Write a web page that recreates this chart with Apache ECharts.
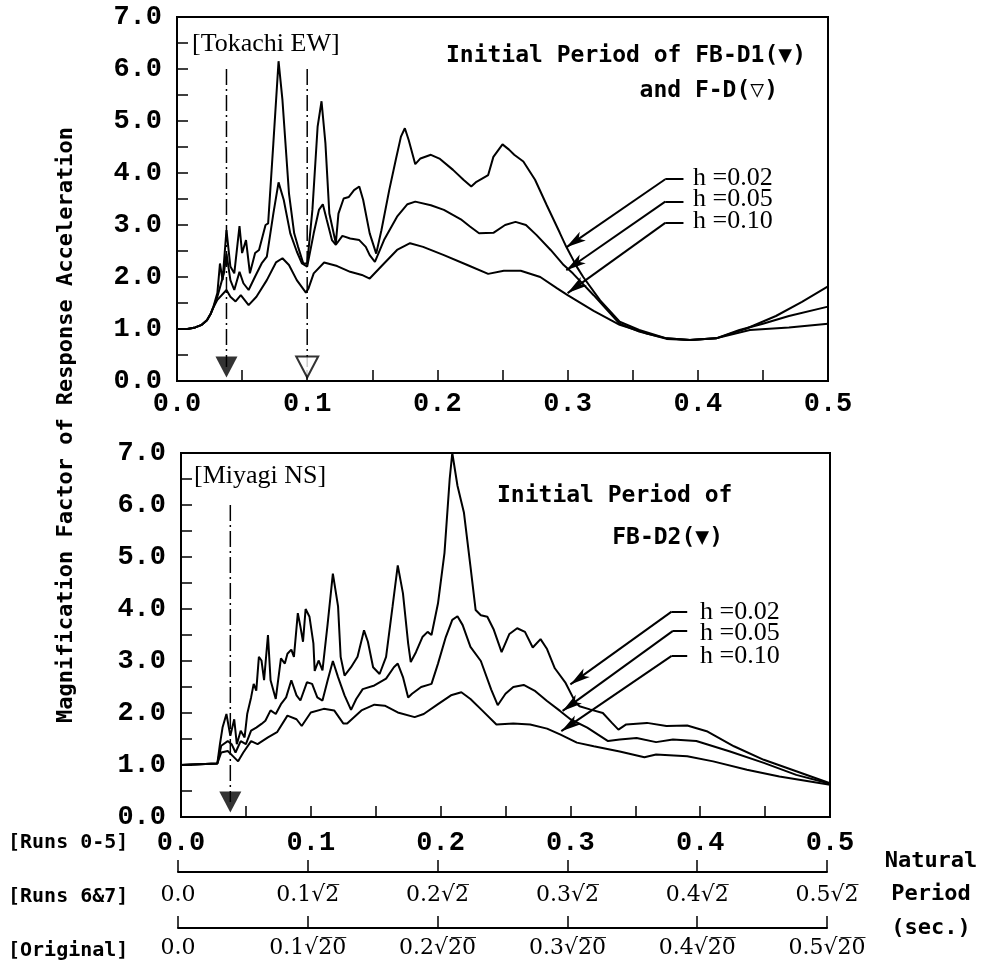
<!DOCTYPE html>
<html>
<head>
<meta charset="utf-8">
<script src="https://cdn.jsdelivr.net/npm/echarts@6/dist/echarts.min.js"></script>
<style>
  body { margin: 0; background: #fff; }
  #chart { width: 996px; height: 964px; }
</style>
</head>
<body>
<div id="chart"></div>
<script>
// [Tokachi EW] spectra, x = natural period (s), y = magnification factor
let tokachiH002 = [[0,1.0],[0.008,1.0],[0.014,1.03],[0.019,1.08],[0.023,1.17],[0.026,1.3],[0.028,1.43],[0.031,1.69],[0.033,2.26],[0.035,1.94],[0.038,2.9],[0.041,2.2],[0.044,2.07],[0.048,2.98],[0.050,2.46],[0.053,2.71],[0.056,2.07],[0.060,2.46],[0.063,2.52],[0.068,3.0],[0.070,3.03],[0.074,4.57],[0.078,6.15],[0.081,5.4],[0.086,3.61],[0.090,2.84],[0.093,2.58],[0.097,2.26],[0.100,2.26],[0.104,3.29],[0.108,4.89],[0.111,5.38],[0.114,4.57],[0.117,3.22],[0.122,2.65],[0.124,3.22],[0.128,3.51],[0.132,3.54],[0.136,3.67],[0.140,3.74],[0.143,3.48],[0.148,2.84],[0.153,2.45],[0.157,2.90],[0.163,3.67],[0.168,4.25],[0.172,4.70],[0.175,4.86],[0.178,4.63],[0.183,4.17],[0.187,4.28],[0.195,4.35],[0.202,4.27],[0.212,4.06],[0.220,3.87],[0.226,3.74],[0.230,3.83],[0.239,3.96],[0.243,4.31],[0.250,4.55],[0.255,4.45],[0.259,4.35],[0.266,4.22],[0.275,3.87],[0.284,3.38],[0.294,2.85],[0.299,2.58],[0.307,2.2],[0.312,2.0],[0.325,1.55],[0.340,1.14],[0.355,0.98],[0.376,0.82],[0.394,0.79],[0.414,0.82],[0.4375,1.01],[0.46,1.25],[0.48,1.52],[0.5,1.82]]
let tokachiH005 = [[0,1.0],[0.008,1.0],[0.014,1.03],[0.019,1.08],[0.023,1.17],[0.026,1.3],[0.028,1.42],[0.031,1.62],[0.036,2.07],[0.038,2.45],[0.041,1.94],[0.044,1.75],[0.048,2.10],[0.051,1.88],[0.055,1.75],[0.060,2.01],[0.065,2.26],[0.069,2.39],[0.074,3.22],[0.078,3.82],[0.082,3.48],[0.087,2.84],[0.092,2.49],[0.096,2.26],[0.100,2.20],[0.105,2.84],[0.109,3.29],[0.112,3.40],[0.115,3.10],[0.119,2.71],[0.122,2.62],[0.127,2.79],[0.133,2.74],[0.140,2.71],[0.145,2.58],[0.148,2.42],[0.152,2.29],[0.159,2.71],[0.169,3.16],[0.177,3.40],[0.183,3.45],[0.195,3.38],[0.205,3.29],[0.218,3.11],[0.225,2.97],[0.232,2.84],[0.243,2.85],[0.252,3.0],[0.260,3.06],[0.268,3.0],[0.276,2.81],[0.287,2.52],[0.297,2.23],[0.304,2.07],[0.32,1.65],[0.340,1.1],[0.355,0.95],[0.376,0.81],[0.394,0.79],[0.414,0.82],[0.432,0.98],[0.45,1.1],[0.47,1.25],[0.5,1.43]]
let tokachiH010 = [[0,1.0],[0.008,1.0],[0.014,1.03],[0.019,1.08],[0.023,1.17],[0.026,1.3],[0.028,1.42],[0.031,1.56],[0.038,1.75],[0.041,1.62],[0.045,1.53],[0.049,1.65],[0.055,1.46],[0.061,1.62],[0.069,1.94],[0.076,2.28],[0.081,2.36],[0.086,2.23],[0.092,1.94],[0.099,1.70],[0.101,1.78],[0.105,2.07],[0.113,2.28],[0.123,2.21],[0.133,2.10],[0.142,2.04],[0.148,1.97],[0.159,2.26],[0.169,2.52],[0.179,2.65],[0.189,2.58],[0.205,2.42],[0.223,2.23],[0.239,2.06],[0.251,2.12],[0.264,2.12],[0.279,2.0],[0.292,1.78],[0.300,1.65],[0.32,1.35],[0.340,1.08],[0.36,0.92],[0.376,0.82],[0.394,0.79],[0.414,0.82],[0.44,0.98],[0.47,1.03],[0.5,1.1]]

// [Miyagi NS] spectra
let miyagiH002 = [[0,1.0],[0.028,1.03],[0.030,1.40],[0.032,1.72],[0.035,1.98],[0.038,1.56],[0.041,1.88],[0.043,1.40],[0.046,1.66],[0.049,1.53],[0.051,1.98],[0.054,2.30],[0.056,2.56],[0.058,2.43],[0.060,3.08],[0.062,3.01],[0.064,2.63],[0.067,3.50],[0.069,2.63],[0.073,2.27],[0.077,3.05],[0.080,2.95],[0.082,3.14],[0.085,3.22],[0.087,3.08],[0.090,3.92],[0.092,3.66],[0.094,3.37],[0.096,4.0],[0.099,3.85],[0.102,3.34],[0.103,2.81],[0.106,3.01],[0.109,2.82],[0.113,3.72],[0.117,4.68],[0.121,4.05],[0.123,3.08],[0.126,2.72],[0.131,2.88],[0.136,3.08],[0.141,3.59],[0.144,3.37],[0.148,2.88],[0.153,2.75],[0.158,3.08],[0.163,4.05],[0.167,4.84],[0.171,4.30],[0.175,3.34],[0.177,2.98],[0.181,3.17],[0.186,3.46],[0.190,3.56],[0.193,3.50],[0.198,4.11],[0.203,5.08],[0.207,6.50],[0.209,7.0],[0.213,6.37],[0.218,5.85],[0.223,4.82],[0.227,3.98],[0.231,3.88],[0.236,3.85],[0.241,3.6],[0.247,3.17],[0.253,3.52],[0.259,3.63],[0.265,3.56],[0.271,3.26],[0.277,3.42],[0.282,3.23],[0.288,2.86],[0.296,2.59],[0.304,2.20],[0.307,2.13],[0.315,2.07],[0.325,2.0],[0.332,1.81],[0.337,1.68],[0.343,1.78],[0.359,1.81],[0.374,1.75],[0.390,1.76],[0.405,1.65],[0.426,1.36],[0.449,1.10],[0.474,0.88],[0.5,0.65]]
let miyagiH005 = [[0,1.0],[0.028,1.03],[0.031,1.37],[0.036,1.46],[0.039,1.40],[0.042,1.24],[0.046,1.46],[0.050,1.40],[0.054,1.66],[0.058,1.72],[0.062,1.79],[0.065,1.85],[0.069,2.05],[0.073,1.98],[0.077,2.17],[0.081,2.30],[0.085,2.63],[0.089,2.34],[0.092,2.24],[0.097,2.59],[0.101,2.56],[0.105,2.30],[0.109,2.24],[0.113,2.63],[0.117,3.0],[0.121,2.69],[0.126,2.34],[0.131,2.06],[0.135,2.27],[0.140,2.46],[0.149,2.53],[0.158,2.66],[0.164,2.88],[0.167,2.95],[0.171,2.69],[0.175,2.30],[0.178,2.37],[0.185,2.50],[0.193,2.56],[0.198,2.95],[0.204,3.46],[0.209,3.79],[0.213,3.86],[0.217,3.69],[0.223,3.27],[0.231,3.0],[0.239,2.45],[0.244,2.15],[0.250,2.37],[0.256,2.50],[0.264,2.54],[0.273,2.42],[0.282,2.23],[0.292,2.04],[0.300,1.88],[0.313,1.72],[0.329,1.46],[0.338,1.49],[0.351,1.52],[0.366,1.44],[0.379,1.49],[0.397,1.46],[0.423,1.26],[0.449,1.04],[0.474,0.81],[0.5,0.64]]
let miyagiH010 = [[0,1.0],[0.028,1.03],[0.031,1.24],[0.036,1.27],[0.040,1.17],[0.044,1.07],[0.048,1.24],[0.054,1.46],[0.059,1.40],[0.067,1.53],[0.074,1.63],[0.082,1.95],[0.089,1.88],[0.093,1.75],[0.100,2.01],[0.110,2.08],[0.118,2.05],[0.125,1.80],[0.128,1.80],[0.139,2.05],[0.149,2.16],[0.157,2.14],[0.167,2.01],[0.180,1.92],[0.187,1.98],[0.198,2.17],[0.208,2.34],[0.216,2.40],[0.223,2.27],[0.232,2.05],[0.243,1.78],[0.256,1.80],[0.269,1.78],[0.282,1.70],[0.292,1.59],[0.305,1.43],[0.318,1.36],[0.338,1.26],[0.357,1.15],[0.366,1.20],[0.390,1.17],[0.410,1.07],[0.436,0.91],[0.461,0.78],[0.5,0.62]]

// initial period markers: [period, top of dash-dot line, triangle centre]
let tokachiFBD1 = [0.038, 6.0, 0.27]
let tokachiFD = [0.100, 6.0, 0.27]
let miyagiFBD2 = [0.038, 6.0, 0.29]

// leader arrows: label end, bend, arrow tip
let tokachiLeaders = [
  [[0.389,3.88],[0.375,3.88],[0.299,2.57]],
  [[0.389,3.45],[0.375,3.45],[0.299,2.13]],
  [[0.389,3.04],[0.375,3.04],[0.300,1.69]]
]
let miyagiLeaders = [
  [[0.390,3.95],[0.378,3.95],[0.300,2.55]],
  [[0.390,3.58],[0.379,3.58],[0.294,2.04]],
  [[0.390,3.10],[0.378,3.10],[0.293,1.65]]
]
let dampingLabels = ['h =0.02', 'h =0.05', 'h =0.10']

let yTicks = ['0.0','1.0','2.0','3.0','4.0','5.0','6.0','7.0']
let xTicks = ['0.0','0.1','0.2','0.3','0.4','0.5']
let runs67Ticks = ['0.0','0.1√2\u0305','0.2√2\u0305','0.3√2\u0305','0.4√2\u0305','0.5√2\u0305']
let originalTicks = ['0.0','0.1√2\u03050\u0305','0.2√2\u03050\u0305','0.3√2\u03050\u0305','0.4√2\u03050\u0305','0.5√2\u03050\u0305']

const tickFont = { fontFamily: 'Liberation Mono', fontWeight: 'bold', fontSize: 27, color: '#000' }
const gothic = 'DejaVu Sans Mono'

function plotAxes(gridIndex, labelMargin) {
  let x = {
    gridIndex, type: 'value', min: 0, max: 0.5, interval: 0.1,
    axisLine: { lineStyle: { color: '#000', width: 2 } },
    axisTick: { inside: true, length: 11, lineStyle: { color: '#000', width: 1.5 } },
    minorTick: { show: true, splitNumber: 2, length: 11, lineStyle: { color: '#000', width: 1.5 } },
    splitLine: { show: false },
    axisLabel: { ...tickFont, margin: labelMargin, formatter: v => xTicks[Math.round(v * 10)] }
  }
  let y = {
    gridIndex, type: 'value', min: 0, max: 7, interval: 1,
    axisLine: { lineStyle: { color: '#000', width: 2 } },
    axisTick: { inside: true, length: 11, lineStyle: { color: '#000', width: 1.5 } },
    minorTick: { show: true, splitNumber: 2, length: 11, lineStyle: { color: '#000', width: 1.5 } },
    splitLine: { show: false },
    axisLabel: { ...tickFont, margin: 15, formatter: v => yTicks[Math.round(v)] }
  }
  return [x, y]
}

function scaleAxis(gridIndex, labels, margin) {
  return {
    gridIndex, type: 'value', min: 0, max: 0.5, interval: 0.1,
    axisLine: { lineStyle: { color: '#000', width: 2 } },
    axisTick: { inside: true, length: 12, lineStyle: { color: '#000', width: 1.5 } },
    splitLine: { show: false },
    axisLabel: { fontFamily: 'DejaVu Serif', fontSize: 22, color: '#000', margin, formatter: v => labels[Math.round(v * 10)] }
  }
}

function curve(data, axis) {
  return {
    type: 'line', data, xAxisIndex: axis, yAxisIndex: axis,
    showSymbol: false, symbol: 'none', silent: true,
    lineStyle: { color: '#000', width: 2 }
  }
}

function marker(m, axis, hollow) {
  return [
    {
      type: 'line', xAxisIndex: axis, yAxisIndex: axis, symbol: 'none', silent: true,
      data: [[m[0], m[1]], [m[0], m[2]]],
      lineStyle: { color: '#000', width: 1.5, type: [16, 4, 2, 4] }
    },
    {
      type: 'scatter', xAxisIndex: axis, yAxisIndex: axis, silent: true, z: 5,
      symbol: 'triangle', symbolRotate: 180, symbolSize: [22, 21],
      data: [[m[0], m[2]]],
      itemStyle: hollow ? { color: '#fff', borderColor: '#000', borderWidth: 2 } : { color: '#000' }
    }
  ]
}

function leaders(list) {
  let data = []
  list.forEach(l => {
    data.push([{ coord: l[0], symbol: 'none' }, { coord: l[1], symbol: 'none' }])
    data.push([{ coord: l[1], symbol: 'none' }, { coord: l[2], symbol: 'arrow', symbolSize: [8, 20] }])
  })
  return {
    silent: true, animation: false, symbol: 'none',
    label: { show: false },
    lineStyle: { color: '#000', width: 2, type: 'solid' },
    data
  }
}

function text(str, x, y, style) {
  return { type: 'text', x, y, silent: true, style: { text: str, fill: '#000', ...style } }
}

let chart = echarts.init(document.getElementById('chart'))

let [x0, y0] = plotAxes(0, 10)
let [x1, y1] = plotAxes(1, 13)

let topSeries = curve(tokachiH002, 0)
topSeries.markLine = leaders(tokachiLeaders)
let bottomSeries = curve(miyagiH002, 1)
bottomSeries.markLine = leaders(miyagiLeaders)

let labelStyle = { fontFamily: 'Liberation Serif', fontSize: 26, verticalAlign: 'middle' }
let gothicStyle = { fontFamily: gothic, fontWeight: 'bold', fontSize: 22, verticalAlign: 'middle' }

let option = {
  animation: false,
  backgroundColor: '#fff',
  grid: [
    { left: 177, top: 17, width: 651, height: 364, show: true, borderColor: '#000', borderWidth: 2 },
    { left: 181, top: 453, width: 649, height: 364, show: true, borderColor: '#000', borderWidth: 2 },
    { left: 178, top: 871, width: 649, height: 1 },
    { left: 178, top: 927, width: 649, height: 1 }
  ],
  xAxis: [x0, x1, scaleAxis(2, runs67Ticks, 12), scaleAxis(3, originalTicks, 9)],
  yAxis: [y0, y1,
    { gridIndex: 2, show: false, min: 0, max: 1 },
    { gridIndex: 3, show: false, min: 0, max: 1 }],
  series: [
    topSeries, curve(tokachiH005, 0), curve(tokachiH010, 0),
    bottomSeries, curve(miyagiH005, 1), curve(miyagiH010, 1),
    ...marker(tokachiFBD1, 0, false),
    ...marker(tokachiFD, 0, true),
    ...marker(miyagiFBD2, 1, false)
  ],
  graphic: [
    text('Magnification Factor of Response Acceleration', 66, 425,
      { ...gothicStyle, fontSize: 22, align: 'center' }),
    text('[Tokachi EW]', 192, 44, labelStyle),
    text('Initial Period of FB-D1(▼)', 806, 56, { ...gothicStyle, fontSize: 23, align: 'right' }),
    text('and F-D(▽)', 778, 91, { ...gothicStyle, fontSize: 23, align: 'right' }),
    text(dampingLabels[0], 693, 178, labelStyle),
    text(dampingLabels[1], 693, 199, labelStyle),
    text(dampingLabels[2], 693, 221, labelStyle),
    text('[Miyagi NS]', 194, 476, labelStyle),
    text('Initial Period of', 497, 496, { ...gothicStyle, fontSize: 23 }),
    text('FB-D2(▼)', 723, 538, { ...gothicStyle, fontSize: 23, align: 'right' }),
    text(dampingLabels[0], 700, 612, labelStyle),
    text(dampingLabels[1], 700, 633, labelStyle),
    text(dampingLabels[2], 700, 656, labelStyle),
    text('[Runs 0-5]', 8, 843, { ...gothicStyle, fontSize: 20 }),
    text('[Runs 6&7]', 8, 897, { ...gothicStyle, fontSize: 20 }),
    text('[Original]', 8, 951, { ...gothicStyle, fontSize: 20 }),
    text('Natural', 931, 861, { ...gothicStyle, align: 'center' }),
    text('Period', 931, 894, { ...gothicStyle, align: 'center' }),
    text('(sec.)', 931, 928, { ...gothicStyle, align: 'center' })
  ]
}
// rotate the y title
option.graphic[0].rotation = Math.PI / 2
chart.setOption(option)
</script>
</body>
</html>
